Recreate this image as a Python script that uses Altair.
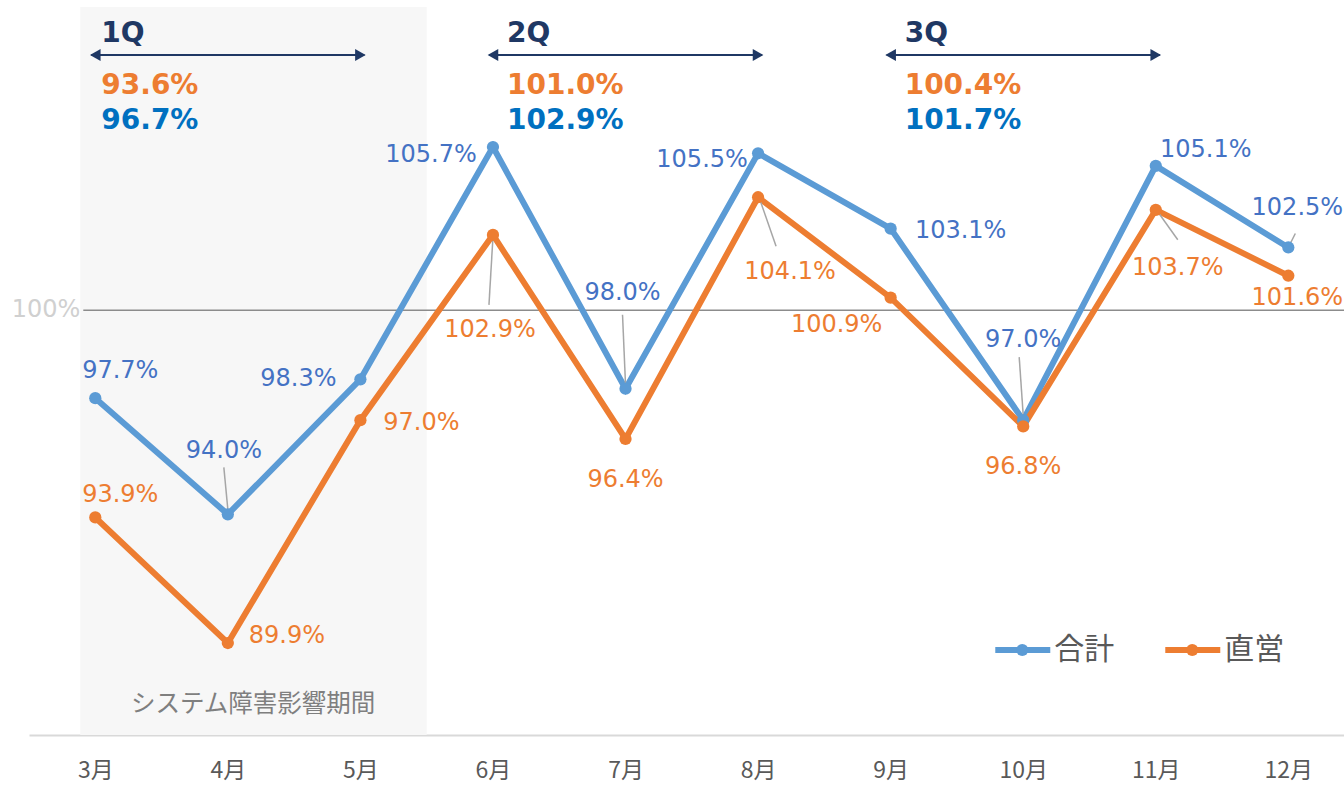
import altair as alt
import pandas as pd

# ---------------- data ----------------
months = ["3月", "4月", "5月", "6月", "7月", "8月", "9月", "10月", "11月", "12月"]
total = [97.7, 94.0, 98.3, 105.7, 98.0, 105.5, 103.1, 97.0, 105.1, 102.5]   # 合計
direct = [93.9, 89.9, 97.0, 102.9, 96.4, 104.1, 100.9, 96.8, 103.7, 101.6]  # 直営
series_names = ["合計", "直営"]

quarters = ["1Q", "2Q", "3Q"]
q_start = [0, 3, 6]          # first month index of each quarter
q_end = [2, 5, 8]            # last month index of each quarter
q_direct = [93.6, 101.0, 100.4]
q_total = [96.7, 102.9, 101.7]

outage_label = "システム障害影響期間"
ref_label = "100%"

# label placement (pixel offsets from each point)
total_dx = [25, -4, -62, -62, -3, -56, 70, 0, 50, 9]
total_dy = [-27, -63, 0, 8, -96, 7, 2, -80, -16, -39]
direct_dx = [25, 59, 61, -3, 0, 32, -54, 0, 22, 9]
direct_dy = [-22, -7, 3, 95, 41, 75, 27, 41, 58, 22]

# leader lines: (series, month index, dx1, dy1, dx2, dy2) pixel offsets from point
leaders = [
    ("合計", 1, -4, -47, 0, -5),
    ("合計", 4, -3, -74, 0, -4),
    ("合計", 7, -4, -63, 0, -5),
    ("合計", 9, 7, -14, 1, -2),
    ("直営", 3, 0, 2, -4, 70),
    ("直営", 5, 2, 3, 18, 49),
    ("直営", 8, 2, 2, 22, 30),
]

# ---------------- styles / geometry ----------------
BLUE = "#5B9BD5"
ORANGE = "#ED7D31"
BLUE_TXT = "#4472C4"
NAVY = "#1F3864"
Q_BLUE = "#0070C0"
NUM_FONT = "DejaVu Sans"
JP_FONT = "Noto Sans CJK JP"

W, H = 1315, 728
XDOM = [-0.5, 9.42]
YDOM = [86.97, 110.16]
SX = W / (XDOM[1] - XDOM[0])
SY = H / (YDOM[1] - YDOM[0])
REF_VALUE = 100.5  # where the reference line sits in the picture


def xpx(dx):
    return dx / SX


def ypx(dy):
    return -dy / SY


xscale = alt.Scale(domain=XDOM, nice=False, zero=False)
yscale = alt.Scale(domain=YDOM, nice=False, zero=False)
labels_expr = "[" + ",".join(f"'{m}'" for m in months) + "][datum.value]"
xaxis = alt.Axis(values=list(range(len(months))), labelExpr=labels_expr, labelFont=JP_FONT,
                 labelFontSize=23, labelColor="#595959", labelPadding=24, domainColor="#d9d9d9",
                 domainWidth=2, ticks=False, grid=False, title=None, labelOverlap=False)


def X(f="x"):
    return alt.X(f"{f}:Q", scale=xscale, axis=xaxis)


def Y(f="y"):
    return alt.Y(f"{f}:Q", scale=yscale, axis=None)


vals = {"合計": total, "直営": direct}
cols = {"合計": BLUE, "直営": ORANGE}
tcols = {"合計": BLUE_TXT, "直営": ORANGE}
offs = {"合計": (total_dx, total_dy), "直営": (direct_dx, direct_dy)}

layers = []

# shaded outage period
shade = pd.DataFrame({"x": [xpx(-15)], "x2": [2.5], "y": [YDOM[0]], "y2": [YDOM[1]]})
layers.append(alt.Chart(shade).mark_rect(color="#f7f7f7").encode(
    x=X(), x2="x2", y=Y(), y2="y2"))

outage = pd.DataFrame({"x": [1.19], "y": [YDOM[1] + ypx(705 - 7)], "t": [outage_label]})
layers.append(alt.Chart(outage).mark_text(font=JP_FONT, fontSize=24.5, color="#7f7f7f",
                                          baseline="middle").encode(x=X(), y=Y(), text="t"))

# 100% reference line + label
ref = pd.DataFrame({"x": [xpx(-12)], "x2": [XDOM[1]], "y": [REF_VALUE], "t": [ref_label]})
layers.append(alt.Chart(ref).mark_rule(color="#8c8c8c", strokeWidth=1.5).encode(
    x=X(), x2="x2", y=Y()))
layers.append(alt.Chart(ref).mark_text(font=NUM_FONT, fontSize=24, color="#d0d0d0", align="right",
                                       baseline="middle", dx=-3).encode(x=X(), y=Y(), text="t"))

# lines
for s in series_names:
    df = pd.DataFrame({"x": list(range(len(months))), "y": vals[s], "s": s})
    layers.append(alt.Chart(df).mark_line(color=cols[s], strokeWidth=6).encode(x=X(), y=Y()))

# leader lines
ld = pd.DataFrame([{
    "x": i + xpx(a), "y": vals[s][i] + ypx(b), "x2": i + xpx(c), "y2": vals[s][i] + ypx(d)}
    for s, i, a, b, c, d in leaders])
layers.append(alt.Chart(ld).mark_rule(color="#a6a6a6", strokeWidth=1.5).encode(
    x=X(), x2="x2", y=Y(), y2="y2"))

# points and labels
for s in series_names:
    dxs, dys = offs[s]
    df = pd.DataFrame({"x": list(range(len(months))), "y": vals[s]})
    layers.append(alt.Chart(df).mark_circle(color=cols[s], size=150, opacity=1).encode(x=X(), y=Y()))
    lab = pd.DataFrame({
        "x": [i + xpx(dxs[i]) for i in range(len(months))],
        "y": [vals[s][i] + ypx(dys[i]) for i in range(len(months))],
        "t": [f"{v:.1f}%" for v in vals[s]],
    })
    layers.append(alt.Chart(lab).mark_text(font=NUM_FONT, fontSize=24, color=tcols[s],
                                           baseline="middle").encode(x=X(), y=Y(), text="t"))

# quarter annotations
q_text_dx = [6, 14, 14]
y_q = YDOM[1] + ypx(34 - 7)
y_arrow = YDOM[1] + ypx(55 - 7)
y_qd = YDOM[1] + ypx(86 - 7)
y_qt = YDOM[1] + ypx(121 - 7)
qa = pd.DataFrame({
    "x": [q_start[k] + xpx(-4) for k in range(3)],
    "x2": [q_end[k] + xpx(4) for k in range(3)],
    "y": [y_arrow] * 3,
})
layers.append(alt.Chart(qa).mark_rule(color=NAVY, strokeWidth=2).encode(x=X(), x2="x2", y=Y()))
ql = pd.DataFrame({"x": [q_start[k] + xpx(0) for k in range(3)], "y": [y_arrow] * 3})
qr = pd.DataFrame({"x": [q_end[k] + xpx(0) for k in range(3)], "y": [y_arrow] * 3})
layers.append(alt.Chart(ql).mark_point(shape="triangle-left", filled=True, color=NAVY, size=150,
                                       opacity=1).encode(x=X(), y=Y()))
layers.append(alt.Chart(qr).mark_point(shape="triangle-right", filled=True, color=NAVY, size=150,
                                       opacity=1).encode(x=X(), y=Y()))
for ys, texts, color in [(y_q, quarters, NAVY),
                         (y_qd, [f"{v:.1f}%" for v in q_direct], ORANGE),
                         (y_qt, [f"{v:.1f}%" for v in q_total], Q_BLUE)]:
    df = pd.DataFrame({"x": [q_start[k] + xpx(q_text_dx[k]) for k in range(3)],
                       "y": [ys] * 3, "t": texts})
    layers.append(alt.Chart(df).mark_text(font=NUM_FONT, fontSize=28, fontWeight="bold", color=color,
                                          align="left", baseline="middle").encode(x=X(), y=Y(), text="t"))

# manual legend
y_leg = YDOM[1] + ypx(650 - 7)
leg_x0 = [xpx(995 - 95), xpx(1165 - 95)]
for k, s in enumerate(series_names):
    seg = pd.DataFrame({"x": [leg_x0[k]], "x2": [leg_x0[k] + xpx(55)], "y": [y_leg]})
    layers.append(alt.Chart(seg).mark_rule(color=cols[s], strokeWidth=6).encode(x=X(), x2="x2", y=Y()))
    dot = pd.DataFrame({"x": [leg_x0[k] + xpx(27)], "y": [y_leg]})
    layers.append(alt.Chart(dot).mark_circle(color=cols[s], size=150, opacity=1).encode(x=X(), y=Y()))
    txt = pd.DataFrame({"x": [leg_x0[k] + xpx(59)], "y": [y_leg], "t": [s]})
    layers.append(alt.Chart(txt).mark_text(font=JP_FONT, fontSize=30, color="#595959", align="left",
                                           baseline="middle").encode(x=X(), y=Y(), text="t"))

chart = alt.layer(*layers).properties(
    width=W, height=H,
    padding={"left": 29, "top": 7, "right": 0, "bottom": 50},
    autosize="none",
).configure_view(stroke=None)

chart.save("out.html", embed_options={"renderer": "svg", "actions": False})
